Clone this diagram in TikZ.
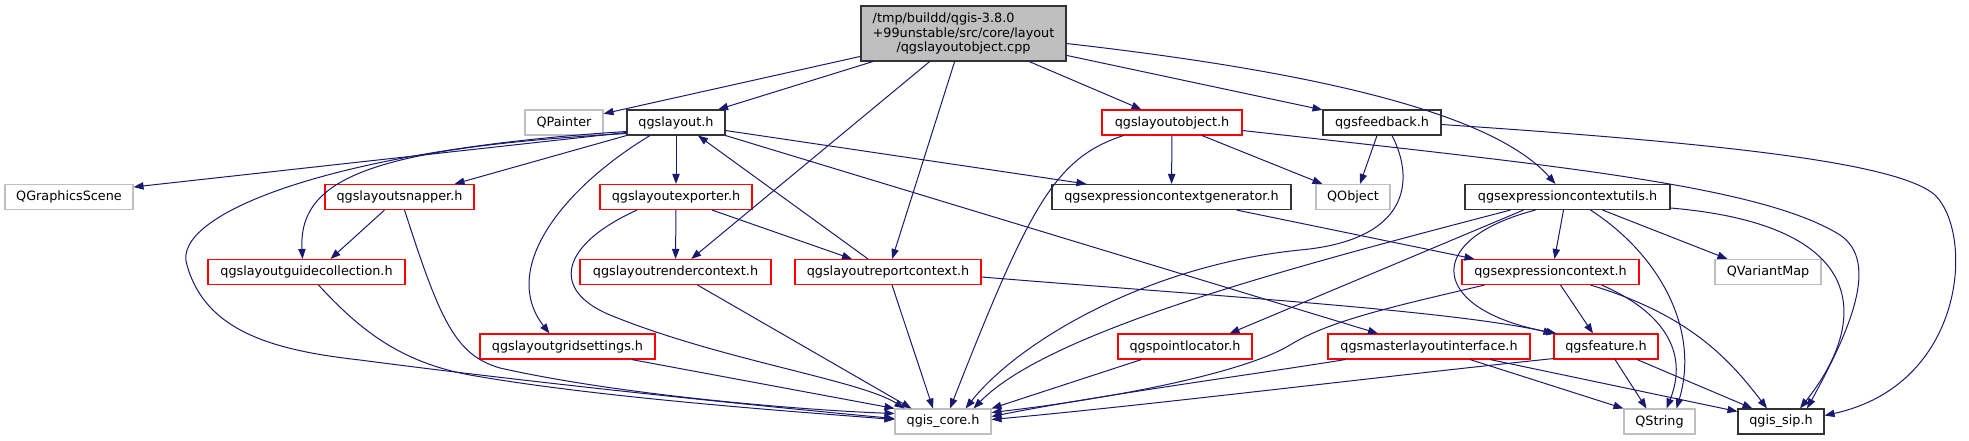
\documentclass[tikz,border=0pt]{standalone}
\usepackage{fontspec}
\newfontfamily\graphfont{DejaVu Sans}
\usetikzlibrary{arrows.meta,calc}
\definecolor{MidnightBlue}{HTML}{191970}
\definecolor{ExtGray}{HTML}{BFBFBF}
\definecolor{TruncRed}{HTML}{FF0000}

\begin{document}
\begin{tikzpicture}[
  x=0.75pt, y=-0.75pt,
  file/.style  = {draw, line width=0.8pt, minimum height=18.75pt, inner sep=0pt,
                  font=\graphfont\fontsize{9.6}{10.9}\selectfont},
  wd/.style    = {minimum width=#1*0.75pt},
  hdr/.style   = {file, draw=black!80},
  ext/.style   = {file, draw=ExtGray},
  trunc/.style = {file, draw=TruncRed},
  cur/.style   = {file, draw=black!80, fill=ExtGray, align=center,
                  minimum height=41.25pt},
  dep/.style   = {-{Triangle[length=7.5pt,width=5.5pt]}, line width=0.75pt,
                  MidnightBlue}
]
  \useasboundingbox (0,0) rectangle (1969,440);

  % row 0
  \node[cur, wd=205] (main) at (963.5,33.5)
    {\rlap{/tmp/buildd/qgis-3.8.0}\phantom{+99unstable/src/core/layout}\\
     +99unstable/src/core/layout\\/qgslayoutobject.cpp};

  % row 1
  \node[ext, wd=78]    (painter)      at (564,122.5)  {QPainter};
  \node[hdr, wd=98]    (layout)       at (676,122.5)  {qgslayout.h};
  \node[trunc, wd=140] (layoutobject) at (1172,122.5) {qgslayoutobject.h};
  \node[hdr, wd=118]   (feedback)     at (1382,122.5) {qgsfeedback.h};

  % row 2
  \node[ext, wd=128]   (graphicsscene) at (69,197)     {QGraphicsScene};
  \node[trunc, wd=149] (snapper)       at (399.5,197)  {qgslayoutsnapper.h};
  \node[trunc, wd=152] (exporter)      at (676,197)    {qgslayoutexporter.h};
  \node[hdr, wd=239]   (ctxgenerator)  at (1171.5,197) {qgsexpressioncontextgenerator.h};
  \node[ext, wd=74]    (qobject)       at (1353,197)   {QObject};
  \node[hdr, wd=205]   (ctxutils)      at (1567.5,197) {qgsexpressioncontextutils.h};

  % row 3
  \node[trunc, wd=197] (guides)        at (306.5,272)  {qgslayoutguidecollection.h};
  \node[trunc, wd=191] (rendercontext) at (675.5,272)  {qgslayoutrendercontext.h};
  \node[trunc, wd=186] (reportcontext) at (888,272)    {qgslayoutreportcontext.h};
  \node[trunc, wd=177] (expcontext)    at (1550.5,272) {qgsexpressioncontext.h};
  \node[ext, wd=106]   (variantmap)    at (1768,272)   {QVariantMap};

  % row 4
  \node[trunc, wd=175] (gridsettings)  at (567.5,346.5) {qgslayoutgridsettings.h};
  \node[trunc, wd=134] (pointlocator)  at (1185,346.5)  {qgspointlocator.h};
  \node[trunc, wd=202] (masterlayout)  at (1429,346.5)  {qgsmasterlayoutinterface.h};
  \node[trunc, wd=104] (feature)       at (1606,346.5)  {qgsfeature.h};

  % row 5
  \node[ext, wd=96] (qgiscore) at (943,421.5)    {qgis\_core.h};
  \node[ext, wd=71] (qstring)  at (1659.5,421.5) {QString};
  \node[hdr, wd=86] (qgissip)  at (1781,421.5)   {qgis\_sip.h};

  % main file
  \draw[dep] (main) -- (painter);
  \draw[dep] (main) -- (layout);
  \draw[dep] (main) -- (rendercontext);
  \draw[dep] (main) -- (reportcontext);
  \draw[dep] (main) -- (layoutobject);
  \draw[dep] (main) -- (feedback);
  \draw[dep] ($(main.east)+(0,10)$) .. controls (1300,70) and (1490,110) .. ($(ctxutils.north)+(-12,0)$);

  % qgslayout.h
  \draw[dep] ($(layout.west)+(0,10)$) -- ($(graphicsscene.east)+(0,-10)$);
  \draw[dep] (layout.south west) -- ($(snapper.north east)+(-20,0)$);
  \draw[dep] ($(layout.west)+(0,11)$) .. controls (380,148) and (298,175) .. ($(guides.north)+(-4,0)$);
  \draw[dep] ($(layout.west)+(0,9)$) .. controls (330,150) and (170,215) .. (187,265)
    .. controls (205,330) and (270,350) .. (360,360)
    .. controls (550,385) and (780,408) .. ($(qgiscore.west)+(0,-3)$);
  \draw[dep] (layout) -- (exporter);
  \draw[dep] ($(layout.south)+(-26,0)$) .. controls (560,190) and (500,270) .. ($(gridsettings.north)+(-18,0)$);
  \draw[dep] ($(layout.east)+(0,8)$) -- ($(ctxgenerator.north west)+(35,0)$);
  \draw[dep] (layout.south east) -- ($(masterlayout.north)+(-51,0)$);

  % qgslayoutsnapper.h
  \draw[dep] ($(snapper.south)+(-15,0)$) -- ($(guides.north)+(24,0)$);
  \draw[dep] ($(snapper.south)+(5,0)$) .. controls (440,320) and (455,355) .. (500,368)
    .. controls (620,395) and (800,410) .. ($(qgiscore.west)+(0,-8)$);
  \draw[dep] ($(guides.south)+(12,0)$) .. controls (360,330) and (400,362) .. (470,375)
    .. controls (600,398) and (800,412) .. ($(qgiscore.west)+(0,-2)$);

  % qgslayoutexporter.h
  \draw[dep] (exporter) -- (rendercontext);
  \draw[dep] ($(exporter.south)+(36,0)$) -- ($(reportcontext.north)+(-36,0)$);
  \draw[dep] ($(exporter.south)+(-39,0)$) .. controls (560,245) and (550,290) .. (610,315)
    .. controls (720,360) and (860,380) .. ($(qgiscore.north west)+(10,0)$);
  \draw[dep] ($(rendercontext.south)+(22,0)$) -- ($(qgiscore.north west)+(17,0)$);

  % qgslayoutreportcontext.h
  \draw[dep] ($(reportcontext.north)+(-20,0)$) -- ($(layout.south)+(22,0)$);
  \draw[dep] ($(reportcontext.south)+(4,0)$) -- ($(qgiscore.north)+(-10,0)$);
  \draw[dep] ($(reportcontext.east)+(0,5)$) .. controls (1200,295) and (1450,310) .. (feature.north west);
  \draw[dep] ($(gridsettings.south east)+(-24,0)$) -- (qgiscore.north west);

  % qgslayoutobject.h
  \draw[dep] (layoutobject) -- (ctxgenerator);
  \draw[dep] ($(layoutobject.south)+(30,0)$) -- ($(qobject.north west)+(7,0)$);
  \draw[dep] ($(layoutobject.south west)+(22,0)$) .. controls (1055,158) and (1030,205) .. ($(qgiscore.north)+(7,0)$);
  \draw[dep] ($(layoutobject.east)+(0,8)$) .. controls (1550,165) and (1760,185) .. (1840,235)
    .. controls (1880,262) and (1850,330) .. ($(qgissip.north)+(26,0)$);

  % qgsfeedback.h
  \draw[dep] ($(feedback.south)+(-5,0)$) -- ($(qobject.north)+(7,0)$);
  \draw[dep] ($(feedback.south)+(10,0)$) .. controls (1415,180) and (1410,240) .. (1300,250)
    .. controls (1150,265) and (1020,340) .. ($(qgiscore.north east)+(-26,0)$);
  \draw[dep] ($(feedback.east)+(0,2)$) .. controls (1750,145) and (1900,165) .. (1935,195)
    .. controls (1975,235) and (1965,385) .. ($(qgissip.east)+(0,-6)$);

  \draw[dep] ($(ctxgenerator.south east)+(-55,0)$) -- ($(expcontext.north west)+(13,0)$);

  % qgsexpressioncontextutils.h
  \draw[dep] ($(ctxutils.south)+(-4,0)$) -- ($(expcontext.north)+(4,0)$);
  \draw[dep] ($(ctxutils.south)+(35,0)$) -- ($(variantmap.north west)+(13,0)$);
  \draw[dep] ($(ctxutils.south)+(-32,0)$) .. controls (1420,240) and (1430,310) .. ($(feature.north west)+(3,0)$);
  \draw[dep] ($(ctxutils.south)+(23,0)$) .. controls (1660,255) and (1700,330) .. ($(qstring.north)+(17,0)$);
  \draw[dep] ($(ctxutils.east)+(0,11)$) .. controls (1870,225) and (1870,320) .. ($(qgissip.north)+(19,0)$);
  \draw[dep] ($(ctxutils.south)+(-44,0)$) -- ($(pointlocator.north east)+(-23,0)$);
  \draw[dep] ($(ctxutils.south)+(-57,0)$) .. controls (1300,265) and (1050,330) .. ($(qgiscore.north east)+(-18,0)$);

  % qgsexpressioncontext.h
  \draw[dep] ($(expcontext.south)+(10,0)$) -- ($(feature.north)+(-13,0)$);
  \draw[dep] ($(expcontext.south)+(51,0)$) .. controls (1660,310) and (1690,350) .. ($(qstring.north)+(7,0)$);
  \draw[dep] ($(expcontext.south)+(40,0)$) .. controls (1690,315) and (1730,360) .. ($(qgissip.north)+(-14,0)$);
  \draw[dep] ($(expcontext.south west)+(23,0)$) .. controls (1400,305) and (1330,320) .. (1290,345)
    .. controls (1240,375) and (1100,400) .. ($(qgiscore.east)+(0,-9)$);

  % qgsmasterlayoutinterface.h
  \draw[dep] ($(masterlayout.south)+(41,0)$) -- (qstring.north west);
  \draw[dep] ($(masterlayout.south)+(61,0)$) -- ($(qgissip.west)+(0,-10)$);
  \draw[dep] ($(masterlayout.south west)+(18,0)$) .. controls (1250,375) and (1100,395) .. ($(qgiscore.east)+(0,-5)$);

  % qgsfeature.h
  \draw[dep] ($(feature.south)+(9,0)$) -- ($(qstring.north)+(-13,0)$);
  \draw[dep] ($(feature.south)+(31,0)$) -- ($(qgissip.north west)+(15,0)$);
  \draw[dep] ($(feature.south west)+(0,-1)$) .. controls (1350,380) and (1150,405) .. ($(qgiscore.east)+(0,-2)$);

  \draw[dep] ($(pointlocator.south west)+(24,0)$) -- (qgiscore.north east);
\end{tikzpicture}
\end{document}
